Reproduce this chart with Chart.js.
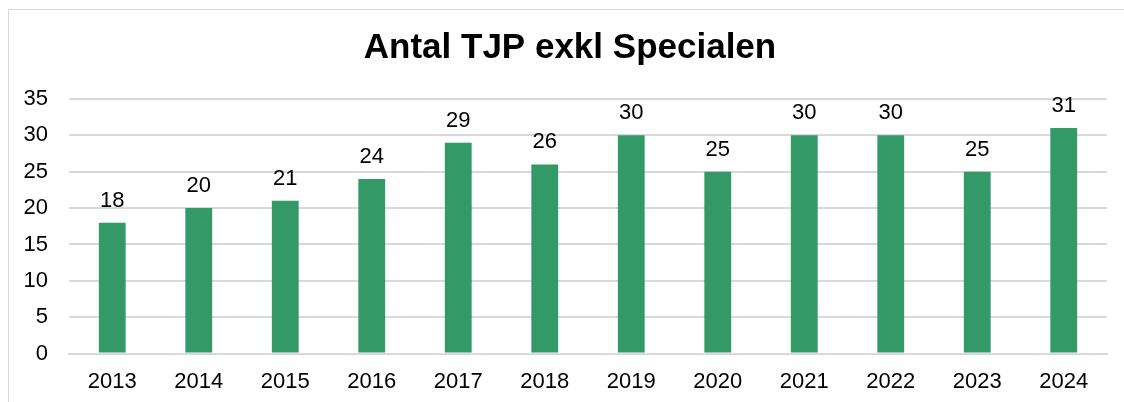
<!DOCTYPE html>
<html>
<head>
<meta charset="utf-8">
<script src="https://cdn.jsdelivr.net/npm/chart.js@4"></script>
<style>
  html, body { margin: 0; padding: 0; background: #fff; }
  #wrap { position: relative; width: 1124px; height: 402px; }
  #frame { position: absolute; left: 8px; top: 9px; right: -2px; bottom: -2px; border: 1px solid #d9d9d9; }
  canvas { position: absolute; left: 0; top: 0; }
</style>
</head>
<body>
<div id="wrap">
  <div id="frame"></div>
  <canvas id="chart" width="1124" height="402"></canvas>
</div>
<script>
// Kategorien + Werte
const YEARS = ['2013', '2014', '2015', '2016', '2017', '2018', '2019', '2020', '2021', '2022', '2023', '2024'];
const COUNTS = [18, 20, 21, 24, 29, 26, 30, 25, 30, 30, 25, 31];
const Y_TICKS = [0, 5, 10, 15, 20, 25, 30, 35];

const TITLE = 'Antal TJP exkl Specialen';
const BAR_COLOR = '#339966';
const GRID = '#d9d9d9';
const FONT = 'Arial, "Liberation Sans", sans-serif';

// Werte über die Balken + Titel (Titel sitzt im Original nicht exakt mittig)
const valueLabels = {
  id: 'valueLabels',
  afterDatasetsDraw(chart) {
    const { ctx } = chart;
    const meta = chart.getDatasetMeta(0);
    ctx.save();
    ctx.font = `22px ${FONT}`;
    ctx.fillStyle = '#000';
    ctx.textAlign = 'center';
    ctx.textBaseline = 'alphabetic';
    meta.data.forEach((bar, i) => {
      ctx.fillText(String(COUNTS[i]), bar.x, bar.y - 16);
    });
    ctx.font = `bold 35px ${FONT}`;
    ctx.textBaseline = 'middle';
    ctx.fillText(TITLE, 570, 48);
    ctx.restore();
  }
};

new Chart(document.getElementById('chart'), {
  type: 'bar',
  data: {
    labels: YEARS,
    datasets: [{
      data: COUNTS,
      backgroundColor: BAR_COLOR,
      borderWidth: 0,
      categoryPercentage: 1,
      barPercentage: 0.31,
    }]
  },
  options: {
    responsive: false,
    animation: false,
    layout: { padding: { top: 99, left: 0, right: 17, bottom: 0 } },
    scales: {
      x: {
        grid: { display: false },
        border: { display: true, color: GRID, width: 2 },
        ticks: { color: '#000', font: { family: FONT, size: 22 }, padding: 7, maxRotation: 0 }
      },
      y: {
        min: 0, max: 35,
        afterFit: s => { s.width = 69; },
        afterBuildTicks: s => { s.ticks = Y_TICKS.map(v => ({ value: v })); },
        border: { display: false },
        grid: { color: GRID, lineWidth: 2, drawTicks: false },
        ticks: { color: '#000', font: { family: FONT, size: 22 }, padding: 21 }
      }
    },
    plugins: {
      legend: { display: false },
      tooltip: { enabled: false },
      title: { display: false }
    }
  },
  plugins: [valueLabels]
});
</script>
</body>
</html>
